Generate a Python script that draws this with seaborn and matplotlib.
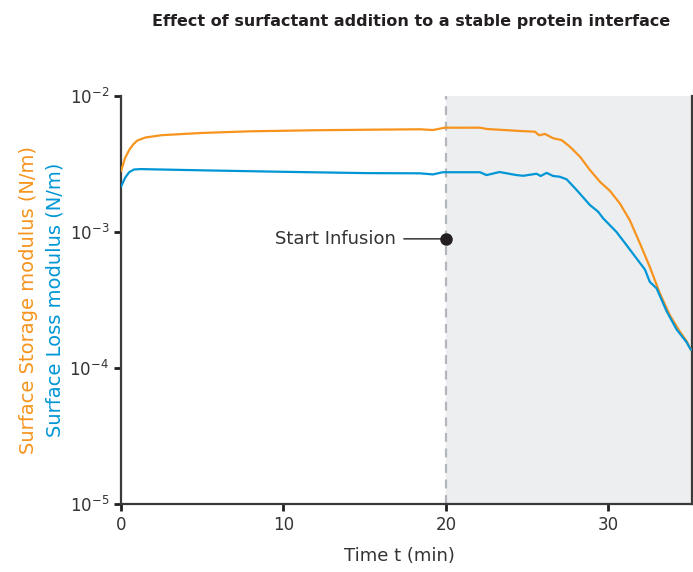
import numpy as np
import pandas as pd
import matplotlib
matplotlib.use('Agg')
import matplotlib.pyplot as plt
import seaborn as sns

# Storage modulus G' (orange)
t_storage = [0, 0.25, 0.5, 0.75, 1.0, 1.5, 2.5, 5, 8, 12, 16, 18.4, 19.2, 19.94, 21, 22.1,
             22.5, 24.55, 25.48, 25.74, 26.09, 26.6, 27.12, 27.63, 28.25, 28.86, 29.48,
             30.09, 30.71, 31.32, 31.94, 32.55, 33.17, 33.78, 34.4, 34.81, 35.08]
g_storage = [2.8e-3, 3.5e-3, 4.0e-3, 4.4e-3, 4.7e-3, 4.95e-3, 5.15e-3, 5.35e-3, 5.5e-3,
             5.6e-3, 5.66e-3, 5.69e-3, 5.62e-3, 5.85e-3, 5.84e-3, 5.85e-3, 5.72e-3,
             5.53e-3, 5.46e-3, 5.14e-3, 5.26e-3, 4.89e-3, 4.74e-3, 4.24e-3, 3.58e-3,
             2.86e-3, 2.34e-3, 2.01e-3, 1.62e-3, 1.22e-3, 8.26e-4, 5.54e-4, 3.54e-4,
             2.45e-4, 1.85e-4, 1.58e-4, 1.36e-4]

# Loss modulus G'' (blue)
t_loss = [0, 0.25, 0.5, 0.8, 1.2, 5, 10, 15, 18.4, 19.2, 19.8, 22.1, 22.5, 23.3, 24.35,
          24.76, 25.58, 25.83, 26.2, 26.6, 27.0, 27.43, 28.04, 28.86, 29.37, 29.68, 30.5,
          31.12, 31.73, 32.25, 32.55, 32.97, 33.58, 34.2, 34.81, 35.08]
g_loss = [2.15e-3, 2.5e-3, 2.75e-3, 2.88e-3, 2.9e-3, 2.84e-3, 2.77e-3, 2.71e-3, 2.70e-3,
          2.65e-3, 2.75e-3, 2.75e-3, 2.62e-3, 2.76e-3, 2.62e-3, 2.59e-3, 2.68e-3, 2.58e-3,
          2.72e-3, 2.58e-3, 2.55e-3, 2.44e-3, 2.04e-3, 1.58e-3, 1.41e-3, 1.26e-3, 1.0e-3,
          8.0e-4, 6.4e-4, 5.3e-4, 4.3e-4, 3.85e-4, 2.62e-4, 1.92e-4, 1.55e-4, 1.36e-4]

infusion_t = 20
infusion_y = 8.9e-4
x_ticks = [0, 10, 20, 30]

orange = '#F7941D'
blue = '#0096D6'
ink = '#231F20'

sns.set_style('ticks')
plt.rcParams['font.family'] = ['DejaVu Sans']

df_s = pd.DataFrame({'t': t_storage, 'g': g_storage})
df_l = pd.DataFrame({'t': t_loss, 'g': g_loss})

fig = plt.figure(figsize=(6.93, 5.72), dpi=100)
ax = fig.add_axes([0.1746, 0.1189, 0.824, 0.7133])

# shaded infusion region + dashed marker
ax.axvspan(infusion_t, 36, color='#EDEEF0', zorder=0)
ax.axvline(infusion_t, color='#B3B6BA', lw=1.6, ls=(0, (4, 3)), zorder=1)

sns.lineplot(data=df_s, x='t', y='g', ax=ax, color=orange, lw=1.6, zorder=3)
sns.lineplot(data=df_l, x='t', y='g', ax=ax, color=blue, lw=1.6, zorder=3)

ax.set_yscale('log')
ax.set_ylim(1e-5, 1e-2)
ax.set_xlim(0, 35.15)
ax.set_xticks(x_ticks)
ax.minorticks_off()

# annotation
ax.plot([infusion_t], [infusion_y], 'o', color=ink, ms=8, zorder=5)
ax.annotate('Start Infusion', xy=(infusion_t, infusion_y), xytext=(16.95, infusion_y),
            ha='right', va='center', fontsize=13, color='#333333',
            arrowprops=dict(arrowstyle='-', color=ink, lw=1,
                            shrinkA=3, shrinkB=0))

for s in ['left', 'bottom', 'right']:
    ax.spines[s].set_color('#3A3A3A')
    ax.spines[s].set_linewidth(1.6)
ax.spines['top'].set_visible(False)
ax.tick_params(axis='both', direction='out', length=5, width=2, color=ink,
               labelsize=12, labelcolor='#333333')
ax.tick_params(axis='y', right=False)

ax.set_xlabel('Time t (min)', fontsize=13, color='#333333')
ax.xaxis.set_label_coords(0.488, -0.105)
ax.set_ylabel('')

fig.text(0.041, 0.475, 'Surface Storage modulus (N/m)', rotation=90, color=orange,
         fontsize=14, ha='center', va='center')
fig.text(0.080, 0.475, 'Surface Loss modulus (N/m)', rotation=90, color=blue,
         fontsize=14, ha='center', va='center')

fig.text(0.593, 0.963, 'Effect of surfactant addition to a stable protein interface',
         ha='center', va='center', fontsize=11.5, fontweight='bold', color=ink)

fig.savefig('out.png', dpi=100)
